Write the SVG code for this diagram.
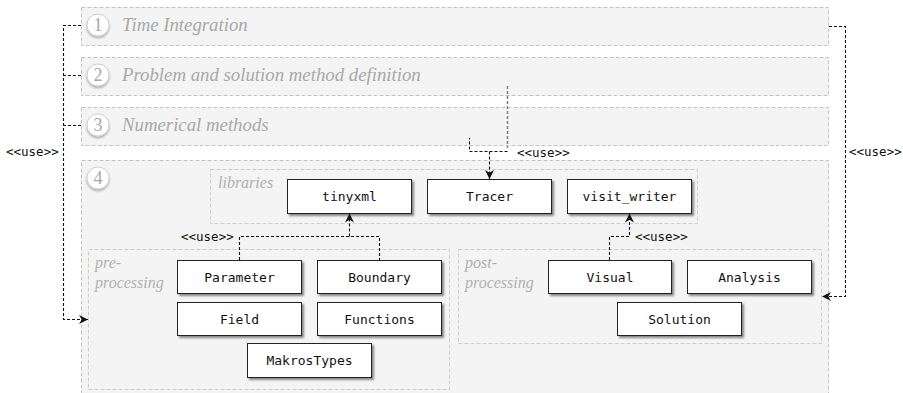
<svg xmlns="http://www.w3.org/2000/svg" width="903" height="393" viewBox="0 0 903 393">
<defs>
<style>
.layer{fill:#f4f4f4;stroke:#c4c4c4;stroke-width:1;stroke-dasharray:4,2}
.sub{fill:#f4f4f4;stroke:#cfcfcf;stroke-width:1;stroke-dasharray:4,2}
.title{font-family:"Liberation Serif",serif;font-style:italic;font-size:18.8px;fill:#a8a8a8}
.subtitle{font-family:"Liberation Serif",serif;font-style:italic;font-size:16px;fill:#b0b0b0}
.num{font-family:"Liberation Serif",serif;font-size:18px;fill:#a8a8a8;text-anchor:middle;dominant-baseline:central}
.circ{fill:#ffffff;stroke:#d0d0d0;stroke-width:1;filter:url(#cs)}
.node rect{fill:#ffffff;stroke:#222;stroke-width:1;filter:url(#ds)}
.node text{font-family:"DejaVu Sans Mono",monospace;font-size:13px;fill:#111;text-anchor:middle;dominant-baseline:central}
.con{fill:none;stroke:#111;stroke-width:1.1;stroke-dasharray:3,2}
.cong{fill:none;stroke:#808080;stroke-width:1.5;stroke-dasharray:3,2}
.lbl{font-family:"DejaVu Sans Mono",monospace;font-size:12.5px;fill:#111}
</style>
<filter id="ds" x="-10%" y="-20%" width="130%" height="160%">
<feDropShadow dx="2" dy="2" stdDeviation="1" flood-color="#000" flood-opacity="0.45"/>
</filter>
<filter id="cs" x="-30%" y="-30%" width="160%" height="170%">
<feDropShadow dx="0" dy="1.5" stdDeviation="1.2" flood-color="#000" flood-opacity="0.35"/>
</filter>
<marker id="arr" viewBox="0 0 10 10" refX="10" refY="5" markerWidth="9" markerHeight="9" markerUnits="userSpaceOnUse" orient="auto">
<path d="M0,0 L10,5 L0,10 L3,5 z" fill="#111"/>
</marker>
</defs>
<rect width="903" height="393" fill="#ffffff"/>

<g id="layer1">
<rect class="layer" x="81.5" y="7.5" width="747" height="38"/>
<circle class="circ" cx="98" cy="25" r="11"/>
<text class="num" x="98" y="25">1</text>
<text class="title" x="122" y="31">Time Integration</text>
</g>
<g id="layer2">
<rect class="layer" x="81.5" y="57.5" width="747" height="38"/>
<circle class="circ" cx="98" cy="75" r="11"/>
<text class="num" x="98" y="75">2</text>
<text class="title" x="122" y="81">Problem and solution method definition</text>
</g>
<g id="layer3">
<rect class="layer" x="81.5" y="107.5" width="747" height="38"/>
<circle class="circ" cx="98" cy="125" r="11"/>
<text class="num" x="98" y="125">3</text>
<text class="title" x="122" y="131">Numerical methods</text>
</g>
<g id="layer4">
<rect class="layer" x="81.5" y="160.5" width="747" height="240"/>
<circle class="circ" cx="98" cy="178" r="11"/>
<text class="num" x="98" y="178">4</text>
</g>
<g id="libraries">
<rect class="sub" x="210.5" y="169.5" width="487" height="54"/>
<text class="subtitle" x="218" y="188">libraries</text>
</g>
<g id="preprocessing">
<rect class="sub" x="88.5" y="249.5" width="361" height="140"/>
<text class="subtitle" x="95" y="268">pre-</text>
<text class="subtitle" x="95" y="288">processing</text>
</g>
<g id="postprocessing">
<rect class="sub" x="458.5" y="249.5" width="363" height="94"/>
<text class="subtitle" x="465" y="268">post-</text>
<text class="subtitle" x="465" y="288">processing</text>
</g>

<g id="tinyxml" class="node"><rect x="287.5" y="179.5" width="124" height="34"/><text x="349.5" y="196.5">tinyxml</text></g>
<g id="Tracer" class="node"><rect x="427.5" y="179.5" width="124" height="34"/><text x="489.5" y="196.5">Tracer</text></g>
<g id="visit_writer" class="node"><rect x="567.5" y="179.5" width="124" height="34"/><text x="629.5" y="196.5">visit_writer</text></g>
<g id="Parameter" class="node"><rect x="177.5" y="260.5" width="124" height="33"/><text x="239.5" y="277">Parameter</text></g>
<g id="Boundary" class="node"><rect x="317.5" y="260.5" width="124" height="33"/><text x="379.5" y="277">Boundary</text></g>
<g id="Field" class="node"><rect x="177.5" y="302.5" width="124" height="33"/><text x="239.5" y="319">Field</text></g>
<g id="Functions" class="node"><rect x="317.5" y="302.5" width="124" height="33"/><text x="379.5" y="319">Functions</text></g>
<g id="MakrosTypes" class="node"><rect x="247.5" y="343.5" width="124" height="34"/><text x="309.5" y="360.5">MakrosTypes</text></g>
<g id="Visual" class="node"><rect x="548.5" y="260.5" width="123" height="33"/><text x="610" y="277">Visual</text></g>
<g id="Analysis" class="node"><rect x="687.5" y="260.5" width="124" height="33"/><text x="749.5" y="277">Analysis</text></g>
<g id="Solution" class="node"><rect x="617.5" y="302.5" width="124" height="33"/><text x="679.5" y="319">Solution</text></g>

<g id="connectors">
<path class="con" d="M81,25.5 H63.5 V319.5 H88" marker-end="url(#arr)"/>
<path class="con" d="M81,75.5 H63.5"/>
<path class="con" d="M81,125.5 H63.5"/>
<text class="lbl" x="6" y="156">&lt;&lt;use&gt;&gt;</text>

<path class="con" d="M829,26.5 H845.5 V296.5 H822" marker-end="url(#arr)"/>
<text class="lbl" x="849" y="156">&lt;&lt;use&gt;&gt;</text>

<path class="cong" d="M507.5,86 V148"/>
<path class="con" d="M507.5,151.5 H469.5 V138"/>
<path class="con" d="M489.5,151.5 V179" marker-end="url(#arr)"/>
<text class="lbl" x="517" y="157">&lt;&lt;use&gt;&gt;</text>

<path class="con" d="M239.5,260 V236.5 H379.5 V260"/>
<path class="con" d="M349.5,236.5 V213.5" marker-end="url(#arr)"/>
<text class="lbl" x="181" y="241">&lt;&lt;use&gt;&gt;</text>

<path class="con" d="M609.5,260 V236.5 H629.5 V213.5" marker-end="url(#arr)"/>
<text class="lbl" x="635" y="241">&lt;&lt;use&gt;&gt;</text>
</g>
</svg>
